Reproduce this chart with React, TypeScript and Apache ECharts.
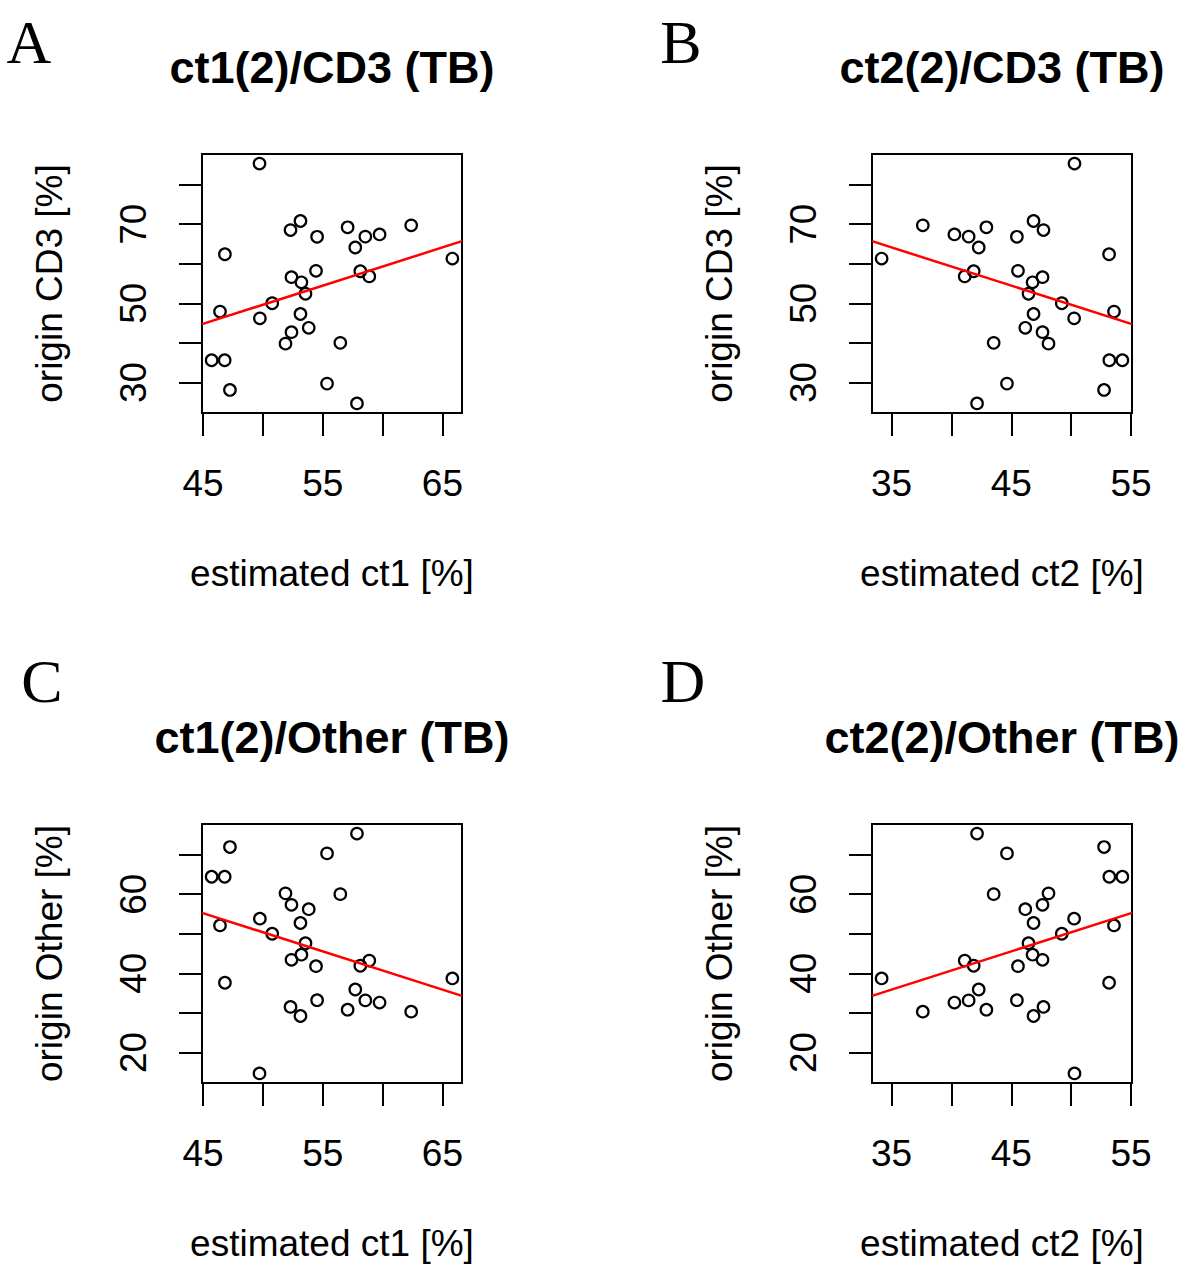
import React, { useEffect, useRef } from "react";
import * as echarts from "echarts";

// Data (same 30 samples in all four panels)
const ct1 = [49.72, 53.14, 52.31, 54.53, 57.08, 58.56, 59.75, 62.39, 57.72, 46.83, 65.83, 54.44, 58.14, 58.89, 52.39, 53.22, 53.56, 50.78, 46.42, 49.75, 53.14, 53.83, 52.39, 51.89, 56.47, 45.72, 46.81, 47.25, 55.36, 57.86];
const cd3 = [85.3, 70.8, 68.5, 66.8, 69.2, 66.85, 67.4, 69.7, 64.1, 62.4, 61.3, 58.2, 58.1, 56.8, 56.6, 55.3, 52.4, 50.0, 47.9, 46.2, 47.3, 43.8, 42.7, 39.8, 40.0, 35.6, 35.6, 28.1, 29.7, 24.7];
const ct2 = [50.28, 46.86, 47.69, 45.47, 42.92, 41.44, 40.25, 37.61, 42.28, 53.17, 34.17, 45.56, 41.86, 41.11, 47.61, 46.78, 46.44, 49.22, 53.58, 50.25, 46.86, 46.17, 47.61, 48.11, 43.53, 54.28, 53.19, 52.75, 44.64, 42.14];
const other = [14.7, 29.2, 31.5, 33.2, 30.8, 33.15, 32.6, 30.3, 35.9, 37.6, 38.7, 41.8, 41.9, 43.2, 43.4, 44.7, 47.6, 50.0, 52.1, 53.8, 52.7, 56.2, 57.3, 60.2, 60.0, 64.4, 64.4, 71.9, 70.3, 75.3];

const ct1Ticks = [45, 50, 55, 60, 65];
const ct1Labels = [45, 55, 65];
const ct2Ticks = [35, 40, 45, 50, 55];
const ct2Labels = [35, 45, 55];
const cd3Ticks = [30, 40, 50, 60, 70, 80];
const cd3Labels = [30, 50, 70];
const otherTicks = [20, 30, 40, 50, 60, 70];
const otherLabels = [20, 40, 60];

const panelLetters = ["A", "B", "C", "D"];
const panelTitles = ["ct1(2)/CD3 (TB)", "ct2(2)/CD3 (TB)", "ct1(2)/Other (TB)", "ct2(2)/Other (TB)"];
const xNames = ["estimated ct1 [%]", "estimated ct2 [%]", "estimated ct1 [%]", "estimated ct2 [%]"];
const yNames = ["origin CD3 [%]", "origin CD3 [%]", "origin Other [%]", "origin Other [%]"];

const SANS = "'Liberation Sans', Arial, Helvetica, sans-serif";
const SERIF = "'Liberation Serif', 'Times New Roman', serif";

function rRange(v: number[]): [number, number] {
  const lo = Math.min(...v);
  const hi = Math.max(...v);
  const d = (hi - lo) * 0.04;
  return [lo - d, hi + d];
}

function fit(x: number[], y: number[]) {
  const n = x.length;
  const mx = x.reduce((a, b) => a + b, 0) / n;
  const my = y.reduce((a, b) => a + b, 0) / n;
  let sxy = 0;
  let sxx = 0;
  for (let i = 0; i < n; i++) {
    sxy += (x[i] - mx) * (y[i] - my);
    sxx += (x[i] - mx) * (x[i] - mx);
  }
  const b = sxy / sxx;
  return { a: my - b * mx, b };
}

export default function App() {
  const ref = useRef<HTMLDivElement>(null);
  useEffect(() => {
    if (!ref.current) return;
    const chart = echarts.init(ref.current, undefined, { renderer: "svg" });

    const panels = [
      { x: ct1, y: cd3, xt: ct1Ticks, xl: ct1Labels, yt: cd3Ticks, yl: cd3Labels, left: 202, top: 154 },
      { x: ct2, y: cd3, xt: ct2Ticks, xl: ct2Labels, yt: cd3Ticks, yl: cd3Labels, left: 872, top: 154 },
      { x: ct1, y: other, xt: ct1Ticks, xl: ct1Labels, yt: otherTicks, yl: otherLabels, left: 202, top: 824 },
      { x: ct2, y: other, xt: ct2Ticks, xl: ct2Labels, yt: otherTicks, yl: otherLabels, left: 872, top: 824 },
    ];
    const W = 260;
    const H = 259;

    const grid: any[] = [];
    const xAxis: any[] = [];
    const yAxis: any[] = [];
    const series: any[] = [];
    const graphic: any[] = [];

    const letterPos = [
      [29, 42],
      [681, 42],
      [42, 681],
      [683, 681],
    ];

    panels.forEach((p, i) => {
      const [xmin, xmax] = rRange(p.x);
      const [ymin, ymax] = rRange(p.y);
      grid.push({
        left: p.left,
        top: p.top,
        width: W,
        height: H,
        show: true,
        borderColor: "#000",
        borderWidth: 2,
        backgroundColor: "transparent",
        containLabel: false,
      });
      xAxis.push({
        type: "value",
        gridIndex: i,
        min: xmin,
        max: xmax,
        axisLine: { show: false },
        splitLine: { show: false },
        axisTick: { show: true, inside: false, length: 23, customValues: p.xt, lineStyle: { color: "#000", width: 2 } },
        axisLabel: { customValues: p.xl, margin: 52, color: "#000", fontSize: 37, fontFamily: SANS },
        name: xNames[i],
        nameLocation: "middle",
        nameGap: 142,
        nameTextStyle: { color: "#000", fontSize: 37, fontFamily: SANS },
      });
      yAxis.push({
        type: "value",
        gridIndex: i,
        min: ymin,
        max: ymax,
        axisLine: { show: false },
        splitLine: { show: false },
        axisTick: { show: true, inside: false, length: 23, customValues: p.yt, lineStyle: { color: "#000", width: 2 } },
        axisLabel: { customValues: p.yl, rotate: 90, margin: 50, color: "#000", fontSize: 37, fontFamily: SANS },
        name: yNames[i],
        nameLocation: "middle",
        nameGap: 134,
        nameTextStyle: { color: "#000", fontSize: 37, fontFamily: SANS },
      });
      series.push({
        type: "scatter",
        xAxisIndex: i,
        yAxisIndex: i,
        data: p.x.map((v, k) => [v, p.y[k]]),
        symbol: "circle",
        symbolSize: 11.5,
        itemStyle: { color: "rgba(0,0,0,0)", borderColor: "#000", borderWidth: 2.2, opacity: 1 },
        z: 2,
      });
      const f = fit(p.x, p.y);
      series.push({
        type: "line",
        xAxisIndex: i,
        yAxisIndex: i,
        data: [
          [xmin, f.a + f.b * xmin],
          [xmax, f.a + f.b * xmax],
        ],
        showSymbol: false,
        symbol: "none",
        lineStyle: { color: "#ff0000", width: 2.5 },
        z: 3,
      });
      graphic.push({
        type: "text",
        x: p.left + W / 2,
        y: p.top - 87,
        style: {
          text: panelTitles[i],
          fontSize: 45,
          fontWeight: "bold",
          fontFamily: SANS,
          fill: "#000",
          align: "center",
          verticalAlign: "middle",
        },
      });
      graphic.push({
        type: "text",
        x: letterPos[i][0],
        y: letterPos[i][1],
        style: {
          text: panelLetters[i],
          fontSize: 62,
          fontFamily: SERIF,
          fill: "#000",
          align: "center",
          verticalAlign: "middle",
        },
      });
    });

    chart.setOption({
      animation: false,
      backgroundColor: "#fff",
      grid,
      xAxis,
      yAxis,
      series,
      graphic,
    });
    return () => chart.dispose();
  }, []);

  return (
    <div
      ref={ref}
      style={{ position: "absolute", left: 0, top: 0, width: 1200, height: 1266, background: "#fff" }}
    />
  );
}
